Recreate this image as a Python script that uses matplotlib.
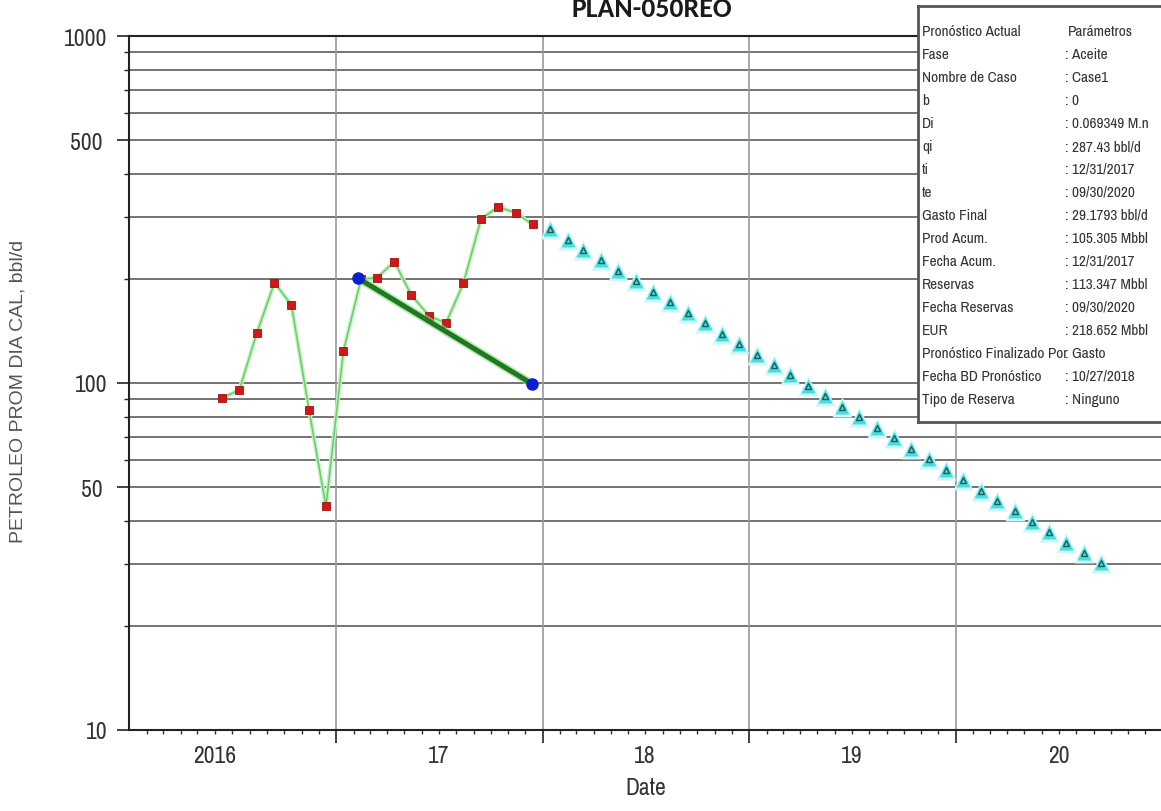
import matplotlib
matplotlib.use("Agg")
import matplotlib.pyplot as plt
import matplotlib.dates as mdates
import matplotlib.ticker as mticker
import pandas as pd

# ---------------- data ----------------
title = "PLAN-050REO"
ylabel = "PETROLEO PROM DIA CAL, bbl/d"
xlabel = "Date"

hist_dates = pd.to_datetime(pd.date_range("2016-06-01", "2017-12-01", freq="MS") + pd.Timedelta(days=13))
hist_vals = [90.5, 95.6, 139.6, 194.5, 167.8, 83.8, 44.1, 123.9, 199.0, 201.1,
             223.7, 178.9, 156.3, 148.6, 194.1, 296.9, 321.5, 309.6, 286.6]

fit_dates = pd.to_datetime(["2017-02-09", "2017-12-13"])
fit_vals = [200.3, 99.5]

fc_dates = pd.to_datetime(pd.date_range("2018-01-01", "2020-09-01", freq="MS") + pd.Timedelta(days=13))
fc_vals = [277.6, 259.0, 241.7, 225.5, 210.4, 196.3, 183.1, 170.9, 159.4, 148.7,
           138.8, 129.5, 120.8, 112.7, 105.2, 98.1, 91.5, 85.4, 79.7, 74.3,
           69.4, 64.7, 60.4, 56.3, 52.6, 49.0, 45.8, 42.7, 39.8, 37.2,
           34.7, 32.3, 30.2]

xtick_dates = pd.to_datetime(["2016-06-01", "2017-07-01", "2018-07-01", "2019-07-01", "2020-07-01"])
xtick_labels = ["2016", "17", "18", "19", "20"]
year_bounds = pd.to_datetime(["2017-01-01", "2018-01-01", "2019-01-01", "2020-01-01", "2021-01-01"])

ytick_vals = [10, 50, 100, 500, 1000]
ytick_labels = ["10", "50", "100", "500", "1000"]

info_keys = ["Pronóstico Actual", "Fase", "Nombre de Caso", "b", "Di", "qi", "ti", "te",
             "Gasto Final", "Prod Acum.", "Fecha Acum.", "Reservas", "Fecha Reservas", "EUR",
             "Pronóstico Finalizado Por", "Fecha BD Pronóstico", "Tipo de Reserva"]
info_vals = ["Parámetros", ": Aceite", ": Case1", ": 0", ": 0.069349 M.n", ": 287.43 bbl/d",
             ": 12/31/2017", ": 09/30/2020", ": 29.1793 bbl/d", ": 105.305 Mbbl", ": 12/31/2017",
             ": 113.347 Mbbl", ": 09/30/2020", ": 218.652 Mbbl", ": Gasto", ": 10/27/2018", ": Ninguno"]

# ---------------- figure ----------------
NARROW = ["Archivo Narrow", "DejaVu Sans"]
W, H = 1161, 812
fig = plt.figure(figsize=(W / 100, H / 100), dpi=100)
fig.patch.set_facecolor("white")

L, R, T, B = 129, 1163, 37, 731
ax = fig.add_axes([L / W, 1 - B / H, (R - L) / W, (B - T) / H])
ax.set_yscale("log")
ax.set_ylim(10, 1000)
ax.set_xlim(pd.Timestamp("2016-01-01"), pd.Timestamp("2021-01-01"))

# grid
for v in [k * 10 ** e for e in (1, 2) for k in range(1, 10)] + [1000]:
    ax.axhline(v, color="#5c5c5c", lw=1.2, zorder=1)
for d in year_bounds:
    ax.axvline(d, color="#9a9a9a", lw=1.2, zorder=1)

# historical data
ax.plot(hist_dates, hist_vals, color="#c8f0c8", lw=3.0, zorder=2, solid_capstyle="round")
ax.plot(hist_dates, hist_vals, color="#5fd35f", lw=1.1, zorder=3)
ax.plot(hist_dates, hist_vals, linestyle="none", marker="s", ms=5.5, mfc="#d01818",
        mec="#a01010", mew=0.6, zorder=4)

# fit line
ax.plot(fit_dates, fit_vals, color="#8fd88f", lw=6, alpha=0.6, zorder=5, solid_capstyle="round")
ax.plot(fit_dates, fit_vals, color="#1d7a1d", lw=3.6, zorder=6, solid_capstyle="round")
ax.plot(fit_dates, fit_vals, linestyle="none", marker="o", ms=8, mfc="#0a1fcf",
        mec="#0a1fcf", zorder=7)

# forecast
ax.plot(fc_dates, fc_vals, linestyle="none", marker="^", ms=14, mfc="#cdf7f7", mec="none", zorder=5)
ax.plot(fc_dates, fc_vals, linestyle="none", marker="^", ms=10, mfc="#45dede", mec="none", zorder=6)
ax.plot(fc_dates, fc_vals, linestyle="none", marker="^", ms=4.5, mfc="none", mec="#245a5a",
        mew=1.0, zorder=7)

# spines
for s in ["left", "bottom", "top"]:
    ax.spines[s].set_color("#222222")
    ax.spines[s].set_linewidth(1.5)
ax.spines["right"].set_visible(False)

# y ticks
ax.yaxis.set_major_locator(mticker.FixedLocator(ytick_vals))
ax.yaxis.set_major_formatter(mticker.FixedFormatter(ytick_labels))
ax.yaxis.set_minor_locator(mticker.LogLocator(base=10, subs=(2, 3, 4, 6, 7, 8, 9), numticks=20))
ax.yaxis.set_minor_formatter(mticker.NullFormatter())
ax.tick_params(axis="y", which="major", direction="out", length=8.6, width=1.2,
               color="#222222", labelsize=17, labelcolor="#333333", pad=7)
ax.tick_params(axis="y", which="minor", direction="out", length=3.6, width=1.0, color="#222222")
for t, v in zip(ax.yaxis.get_major_ticks(), ytick_vals):
    if v in (50, 500):
        t.tick1line.set_markersize(5)
        t.set_pad(10.6)
for lab in ax.get_yticklabels():
    lab.set_fontfamily(NARROW)

# x ticks
ax.xaxis.set_major_locator(mticker.FixedLocator(mdates.date2num(year_bounds)))
ax.xaxis.set_major_formatter(mticker.NullFormatter())
ax.tick_params(axis="x", which="major", direction="out", length=9, width=1.2, color="#222222")
month_ticks = pd.date_range("2016-02-01", "2020-12-01", freq="MS")
minor_pos = sorted(set(mdates.date2num(month_ticks)) | set(mdates.date2num(xtick_dates)))
lab_map = {round(p, 3): l for p, l in zip(mdates.date2num(xtick_dates), xtick_labels)}
ax.xaxis.set_minor_locator(mticker.FixedLocator(minor_pos))
ax.xaxis.set_minor_formatter(mticker.FuncFormatter(lambda x, p: lab_map.get(round(x, 3), "")))
ax.tick_params(axis="x", which="minor", direction="out", length=3, width=1.0, color="#333333",
               labelsize=17, labelcolor="#333333", pad=8)
for lab in ax.xaxis.get_minorticklabels():
    lab.set_fontfamily(NARROW)

ax.set_xlabel(xlabel, fontsize=17, family=NARROW, color="#333333", labelpad=8)
fig.text(18 / W, 1 - 391 / H, ylabel, rotation=90, ha="center", va="center",
         fontsize=14, family=["Liberation Sans", "DejaVu Sans"], color="#555555")

# title (cut at top as in reference)
fig.text(652 / W, 1 - 17 / H, title, ha="center", va="baseline", fontsize=20,
         fontweight="bold", family=["Carlito", "Asap Condensed", "DejaVu Sans"], color="#1a1a1a")

# info box
bx0, by0, bx1, by1 = 918, 7, 1250, 423
box = fig.add_axes([bx0 / W, 1 - by1 / H, (bx1 - bx0) / W, (by1 - by0) / H])
box.set_xticks([]); box.set_yticks([])
box.set_facecolor("white")
for s in box.spines.values():
    s.set_color("#555555")
    s.set_linewidth(2.0)
box.set_zorder(10)
for i, (k, v) in enumerate(zip(info_keys, info_vals)):
    y = 1 - (32 + 23 * i) / H
    fig.text(922 / W, y, k, ha="left", va="center", fontsize=11, family=NARROW,
             color="#333333", zorder=11)
    fig.text((1068 if i == 0 else 1065) / W, y, v, ha="left", va="center", fontsize=11,
             family=NARROW, color="#333333", zorder=11)

fig.savefig("out.png", dpi=100)
